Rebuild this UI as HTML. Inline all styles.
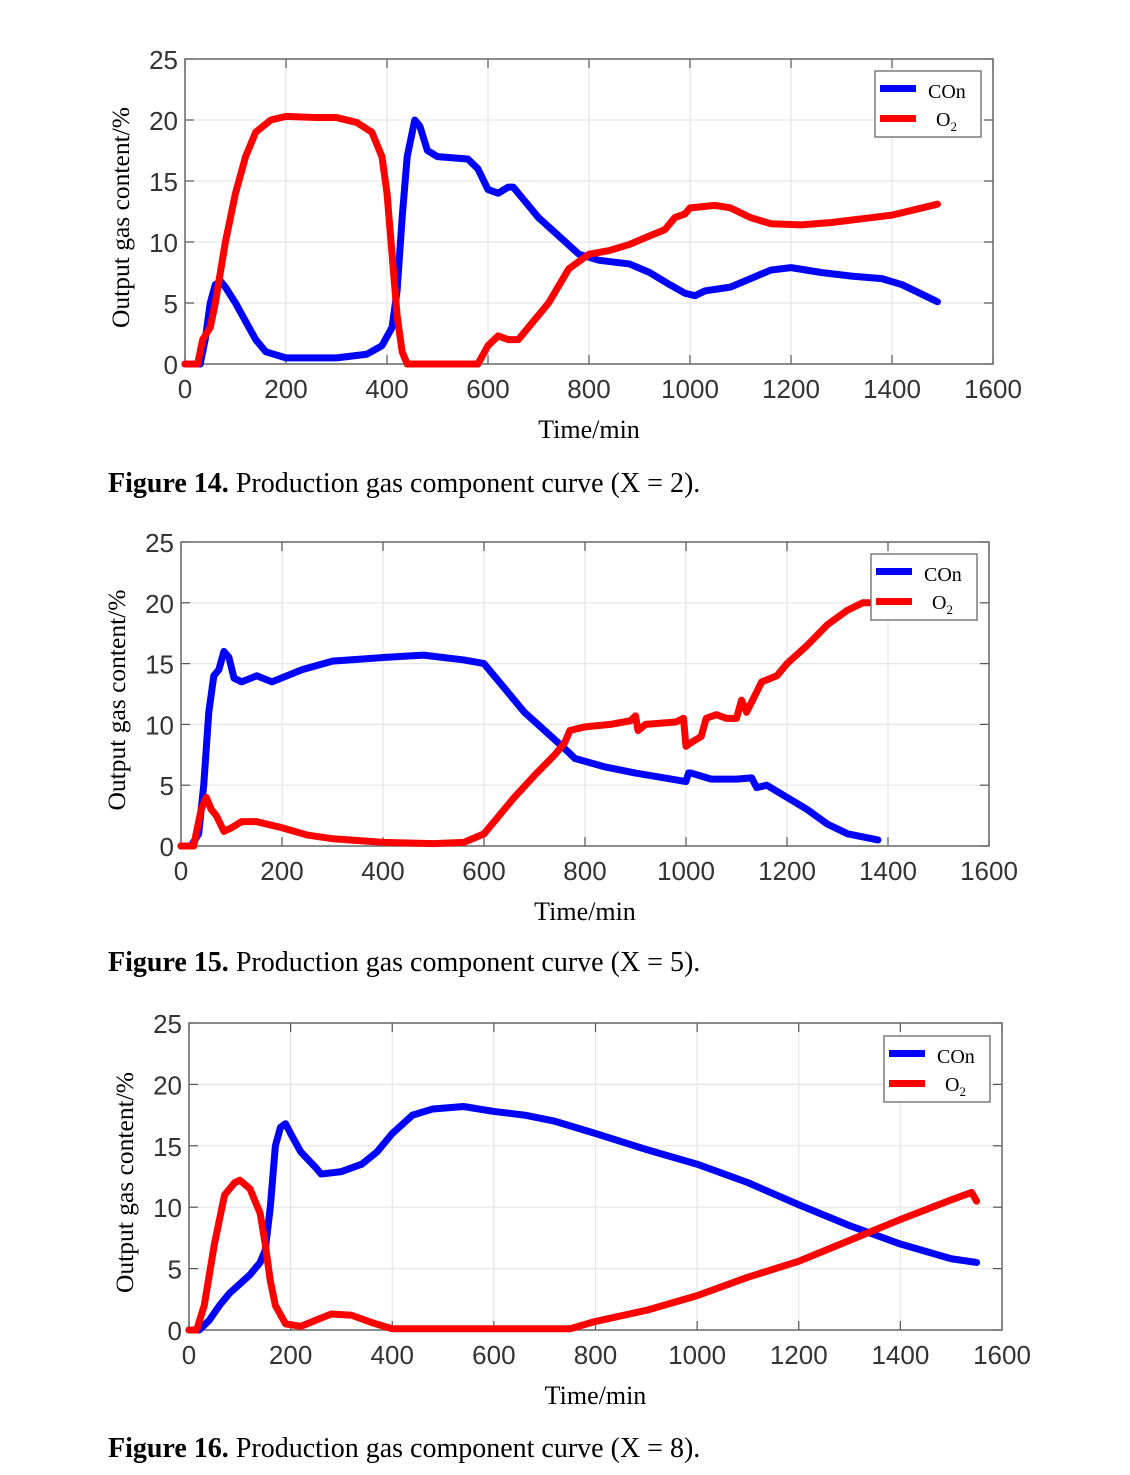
<!DOCTYPE html>
<html><head><meta charset="utf-8"><style>
body{margin:0;background:#fff;width:1130px;height:1475px;overflow:hidden}
svg{position:absolute;left:0;top:0}
.tk{font-family:"Liberation Sans",sans-serif;font-size:26px;fill:#333}
.ser{font-family:"Liberation Serif",serif;fill:#000}
</style></head><body>
<svg id="s" width="1130" height="1475"></svg>
<script>
const xTicks=[0,200,400,600,800,1000,1200,1400,1600];
const yTicks=[0,5,10,15,20,25];
const seriesNames=["COn","O2"];
const c1CO_t=[0,30,40,50,60,70,80,100,120,140,160,200,300,360,390,410,420,430,440,455,465,480,500,560,580,600,620,640,650,670,700,740,780,820,880,920,960,990,1010,1030,1080,1120,1160,1200,1260,1320,1380,1420,1460,1490];
const c1CO_v=[0,0,2,5,6.5,6.8,6.3,5,3.5,2,1,0.5,0.5,0.8,1.5,3,6,12,17,20,19.5,17.5,17,16.8,16,14.3,14,14.5,14.5,13.5,12,10.5,9,8.5,8.2,7.5,6.5,5.8,5.6,6,6.3,7,7.7,7.9,7.5,7.2,7,6.5,5.7,5.1];
const c1O2_t=[0,25,35,50,60,80,100,120,140,170,200,260,300,340,370,390,400,410,420,430,440,580,600,620,640,660,680,720,760,800,840,880,920,950,970,990,1000,1050,1080,1120,1160,1220,1280,1340,1400,1450,1490];
const c1O2_v=[0,0,2,3,5,10,14,17,19,20,20.3,20.2,20.2,19.8,19,17,14,9,4,1,0,0,1.5,2.3,2,2,3,5,7.8,9,9.3,9.8,10.5,11,12,12.3,12.8,13,12.8,12,11.5,11.4,11.6,11.9,12.2,12.7,13.1];
const c2CO_t=[0,20,35,45,55,65,75,85,95,105,120,150,180,240,300,400,480,560,600,640,680,720,760,780,840,900,1000,1005,1010,1050,1100,1130,1140,1160,1200,1240,1280,1320,1380];
const c2CO_v=[0,0,1,5,11,14,14.5,16,15.5,13.8,13.5,14,13.5,14.5,15.2,15.5,15.7,15.3,15,13,11,9.5,8,7.2,6.5,6,5.3,6,6,5.5,5.5,5.6,4.8,5,4,3,1.8,1,0.5];
const c2O2_t=[0,25,40,50,60,70,85,100,120,150,200,250,300,400,500,560,600,630,660,700,740,760,770,800,850,890,900,905,920,980,995,1000,1010,1030,1040,1060,1080,1100,1110,1120,1150,1180,1200,1240,1280,1320,1350,1370];
const c2O2_v=[0,0,3,4,3,2.5,1.2,1.5,2,2,1.5,0.9,0.6,0.3,0.2,0.3,1,2.5,4,5.8,7.5,8.5,9.5,9.8,10,10.3,10.7,9.5,10,10.2,10.5,8.2,8.5,9,10.5,10.8,10.5,10.5,12,11,13.5,14,15,16.5,18.2,19.4,20,20];
const c3CO_t=[0,20,40,60,80,120,140,150,160,170,180,190,200,220,250,260,300,340,370,400,440,480,540,600,660,720,800,900,1000,1100,1200,1300,1400,1500,1550];
const c3CO_v=[0,0,0.8,2,3,4.5,5.5,6.5,10,15,16.5,16.8,16,14.5,13.2,12.7,12.9,13.5,14.5,16,17.5,18,18.2,17.8,17.5,17,16,14.7,13.5,12,10.2,8.5,7,5.8,5.5];
const c3O2_t=[0,15,30,50,70,90,100,120,140,150,160,170,190,220,250,280,320,360,400,750,800,900,1000,1100,1200,1300,1400,1500,1540,1550];
const c3O2_v=[0,0,2,7,11,12,12.2,11.5,9.5,7,4,2,0.5,0.3,0.8,1.3,1.2,0.6,0.1,0.1,0.7,1.6,2.8,4.3,5.6,7.3,9,10.6,11.2,10.5];
const charts=[
 {id:"fig14",x0:185,x1:993,y0:364,y1:59,co:[c1CO_t,c1CO_v],o2:[c1O2_t,c1O2_v],lg:[875,71],cap:["Figure 14.","Production gas component curve (X = 2)."],capY:492},
 {id:"fig15",x0:181,x1:989,y0:846,y1:542,co:[c2CO_t,c2CO_v],o2:[c2O2_t,c2O2_v],lg:[871,554],cap:["Figure 15.","Production gas component curve (X = 5)."],capY:971},
 {id:"fig16",x0:189,x1:1002,y0:1330,y1:1023,co:[c3CO_t,c3CO_v],o2:[c3O2_t,c3O2_v],lg:[884,1036],cap:["Figure 16.","Production gas component curve (X = 8)."],capY:1457}
];
const NS="http://www.w3.org/2000/svg";
const svg=document.getElementById('s');
function mk(tag,attrs,parent,txt){const e=document.createElementNS(NS,tag);for(const k in attrs)e.setAttribute(k,attrs[k]);if(txt!==undefined)e.textContent=txt;(parent||svg).appendChild(e);return e;}
charts.forEach(c=>{
 const g=mk('g',{});
 
 
 const X=v=>c.x0+(c.x1-c.x0)*v/1600, Y=v=>c.y0+(c.y1-c.y0)*v/25;
 xTicks.forEach(t=>{
  if(t>0&&t<1600)mk('line',{x1:X(t),x2:X(t),y1:c.y1,y2:c.y0,stroke:'#e6e6e6','stroke-width':1.2},g);
  mk('line',{x1:X(t),x2:X(t),y1:c.y0,y2:c.y0-9,stroke:'#555','stroke-width':1.2},g);
  mk('line',{x1:X(t),x2:X(t),y1:c.y1,y2:c.y1+9,stroke:'#555','stroke-width':1.2},g);
  const tx=mk('text',{x:X(t),y:c.y0+34,'text-anchor':'middle',class:'tk'},g,t);
  
  
 });
 yTicks.forEach(t=>{
  if(t>0&&t<25)mk('line',{x1:c.x0,x2:c.x1,y1:Y(t),y2:Y(t),stroke:'#e6e6e6','stroke-width':1.2},g);
  mk('line',{x1:c.x0,x2:c.x0+9,y1:Y(t),y2:Y(t),stroke:'#555','stroke-width':1.2},g);
  mk('line',{x1:c.x1,x2:c.x1-9,y1:Y(t),y2:Y(t),stroke:'#555','stroke-width':1.2},g);
  const ty=mk('text',{x:c.x0-7,y:Y(t)+10,'text-anchor':'end',class:'tk'},g,t);
  
  
 });
 mk('rect',{x:c.x0,y:c.y1,width:c.x1-c.x0,height:c.y0-c.y1,fill:'none',stroke:'#666','stroke-width':1.5},g);
 const draw=(d,col,n)=>{
  const p=mk('polyline',{points:d[0].map((t,i)=>X(t)+','+Y(d[1][i])).join(' '),fill:'none',stroke:col,'stroke-width':7,'stroke-linejoin':'round','stroke-linecap':'round'},g);
  
  
 };
 draw(c.co,'#0000ff','con');
 draw(c.o2,'#ff0000','o2');
 const xt=mk('text',{x:(c.x0+c.x1)/2,y:c.y0+74,'text-anchor':'middle',class:'ser','font-size':26},g,'Time/min');
 
 
 const yc=(c.y0+c.y1)/2+6, yx=c.x0-56;
 const yt=mk('text',{x:yx,y:yc,'text-anchor':'middle',class:'ser','font-size':25.5,transform:`rotate(-90 ${yx} ${yc})`},g,'Output gas content/%');
 
 
 const [lx,ly]=c.lg;
 const lgG=mk('g',{},g);
 
 
 mk('rect',{x:lx,y:ly,width:106,height:66,fill:'#fff',stroke:'#666','stroke-width':1.3},lgG);
 mk('rect',{x:lx+5,y:ly+14,width:36,height:7,fill:'#0000ff'},lgG);
 mk('rect',{x:lx+5,y:ly+44,width:36,height:7,fill:'#ff0000'},lgG);
 mk('text',{x:lx+53,y:ly+27,class:'ser','font-size':20},lgG,seriesNames[0]);
 const o=mk('text',{x:lx+61,y:ly+55,class:'ser','font-size':20},lgG,'O');
 mk('tspan',{'font-size':13,dy:5},o,'2');
 const cap=mk('text',{x:108,y:c.capY,class:'ser','font-size':28},svg);
 
 
 mk('tspan',{'font-weight':'bold'},cap,c.cap[0]);
 mk('tspan',{},cap,' '+c.cap[1]);
});
</script>
</body></html>
